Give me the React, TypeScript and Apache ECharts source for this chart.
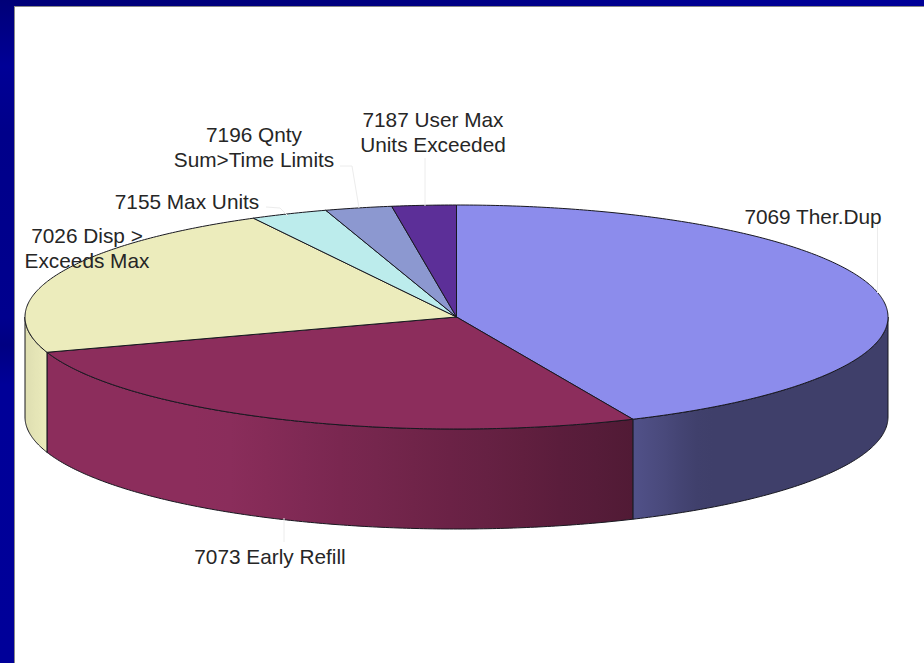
import React, { useEffect, useRef } from "react";
import * as echarts from "echarts";

const categories = ["7069 Ther.Dup", "7073 Early Refill", "7026 Disp >\nExceeds Max", "7155 Max Units", "7196 Qnty\nSum>Time Limits", "7187 User Max\nUnits Exceeded"];
const shares = [43.3, 26.6, 22.3, 2.9, 2.5, 2.4];
const colors = ["#8c8cec", "#8c2d5c", "#ececbc", "#bcecec", "#8c98d0", "#5c2f98"];

const labelAnchors: [number, number][] = [[813, 216], [270, 556], [87, 248], [187, 201], [254, 147], [433, 132]];
const leaders: [number, number][][] = [
  [[877.5, 224], [877.5, 293]],
  [[284, 518], [284, 542]],
  [],
  [[266, 207], [280, 208], [288, 216]],
  [[340, 166], [352, 166], [359, 208]],
  [[425, 158], [425, 206]],
];

const CX = 456.5, CY = 317, RX = 431.5, RY = 112, DEPTH = 100;
const shadeStops: [number, number][] = [[25, 0.94], [48, 1], [220, 1], [340, 0.87], [634, 0.58], [700, 0.45], [888, 0.45]];

function shade(x: number) {
  for (let i = 1; i < shadeStops.length; i++) {
    const [a, sa] = shadeStops[i - 1], [b, sb] = shadeStops[i];
    if (x <= b) return sa + ((sb - sa) * (x - a)) / (b - a);
  }
  return shadeStops[shadeStops.length - 1][1];
}
function scale(hex: string, f: number) {
  const n = parseInt(hex.slice(1), 16);
  return `rgb(${Math.round(((n >> 16) & 255) * f)},${Math.round(((n >> 8) & 255) * f)},${Math.round((n & 255) * f)})`;
}
const px = (t: number) => CX + RX * Math.sin(t);
const py = (t: number) => CY - RY * Math.cos(t);
const rad = (share: number) => (share / 100) * Math.PI * 2;

function arcPoints(a: number, b: number, dy = 0) {
  const n = Math.max(2, Math.ceil(Math.abs(b - a) / 0.01));
  const pts: [number, number][] = [];
  for (let k = 0; k <= n; k++) {
    const t = a + ((b - a) * k) / n;
    pts.push([px(t), py(t) + dy]);
  }
  return pts;
}

function renderItem(params: any, api: any) {
  const i = params.dataIndex;
  const before = shares.slice(0, i).reduce((a, b) => a + b, 0);
  const a0 = rad(before);
  const a1 = rad(before + api.value(1));
  const children: any[] = [];
  const sa = Math.max(a0, Math.PI / 2), sb = Math.min(a1, (3 * Math.PI) / 2);
  const stroke = { stroke: "#181820", lineWidth: 1, lineJoin: "round" };
  if (sb > sa) {
    const x0 = px(sa), x1 = px(sb), xl = Math.min(x0, x1), xr = Math.max(x0, x1);
    const stops = [];
    for (let k = 0; k <= 16; k++) {
      const x = xl + ((xr - xl) * k) / 16;
      stops.push({ offset: k / 16, color: scale(colors[i], shade(x)) });
    }
    children.push({
      type: "polygon",
      shape: { points: [...arcPoints(sa, sb), ...arcPoints(sb, sa, DEPTH)] },
      style: { fill: new echarts.graphic.LinearGradient(0, 0, 1, 0, stops), ...stroke },
    });
  }
  children.push({
    type: "polygon",
    shape: { points: [[CX, CY], ...arcPoints(a0, a1)] },
    style: { fill: colors[i], ...stroke },
  });
  return { type: "group", children };
}

function renderLabel(params: any, api: any) {
  const i = params.dataIndex;
  const children: any[] = [];
  if (leaders[i].length) {
    children.push({
      type: "polyline",
      shape: { points: leaders[i] },
      style: { fill: "none", stroke: "#ececec", lineWidth: 1 },
    });
  }
  children.push({
    type: "text",
    style: {
      x: labelAnchors[i][0],
      y: labelAnchors[i][1],
      text: categories[i],
      align: "center",
      verticalAlign: "middle",
      fontFamily: "Liberation Sans",
      fontSize: 20.8,
      lineHeight: 24.5,
      fill: "#262626",
    },
  });
  return { type: "group", children };
}

export default function App() {
  const ref = useRef<HTMLDivElement>(null);
  useEffect(() => {
    document.body.style.margin = "0";
    const chart = echarts.init(ref.current!, null, { renderer: "svg" });
    const data = shares.map((v, i) => [i, v]);
    chart.setOption({
      animation: false,
      backgroundColor: "#ffffff",
      graphic: [
        {
          type: "rect", z: 0, shape: { x: 0, y: 0, width: 924, height: 6 },
          style: { fill: new echarts.graphic.LinearGradient(0, 0, 1, 0, [
            { offset: 0, color: "#000078" }, { offset: 0.4, color: "#000080" }, { offset: 0.75, color: "#000092" }, { offset: 1, color: "#000098" },
          ]) },
        },
        {
          type: "rect", z: 0, shape: { x: 0, y: 0, width: 14, height: 663 },
          style: { fill: new echarts.graphic.LinearGradient(0, 0, 0, 1, [
            { offset: 0, color: "#000078" }, { offset: 0.1, color: "#000096" }, { offset: 0.2, color: "#00008a" }, { offset: 0.48, color: "#00008e" },
            { offset: 0.52, color: "#000082" }, { offset: 0.58, color: "#000098" }, { offset: 1, color: "#000099" },
          ]) },
        },
        { type: "line", z: 0, shape: { x1: 14.5, y1: 6, x2: 14.5, y2: 663 }, style: { stroke: "#8a8a8a", lineWidth: 1 } },
        { type: "line", z: 0, shape: { x1: 14, y1: 6.5, x2: 924, y2: 6.5 }, style: { stroke: "#8a8a8a", lineWidth: 1 } },
      ],
      series: [
        { type: "custom", coordinateSystem: "none", renderItem, data, z: 2, clip: false },
        { type: "custom", coordinateSystem: "none", renderItem: renderLabel, data, z: 3, clip: false },
      ],
    });
    return () => chart.dispose();
  }, []);
  return <div ref={ref} style={{ width: 924, height: 663 }} />;
}
